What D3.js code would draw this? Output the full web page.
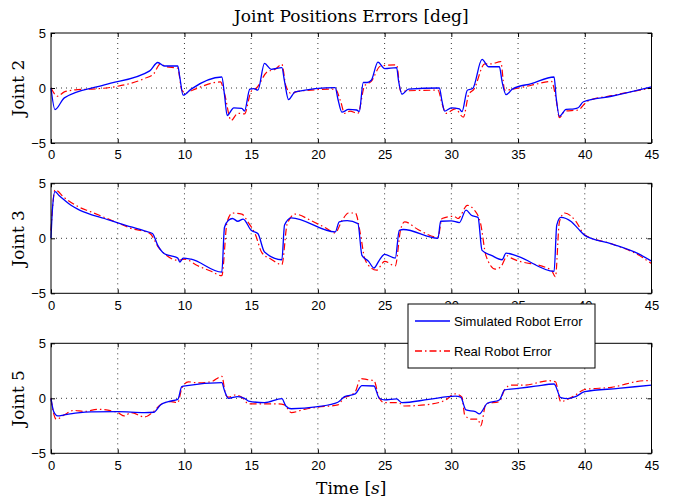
<!DOCTYPE html>
<html>
<head>
<meta charset="utf-8">
<script src="https://cdn.jsdelivr.net/npm/d3@7"></script>
<style>
	body{margin:0;background:#fff;}
	.tick text{font-family:'Liberation Sans',Arial,sans-serif;font-size:13px;fill:#000;}
	.lab{font-family:'DejaVu Serif','Liberation Serif',serif;fill:#000;}
</style>
</head>
<body>
<div id="plot"></div>
<script>
//time [s], error [deg]
var xTicks = [0,5,10,15,20,25,30,35,40,45],
	yTicks = [-5,0,5],
	jointNames = ['Joint 2','Joint 3','Joint 5'],
	seriesNames = ['Simulated Robot Error','Real Robot Error'];

var j2Sim = [[0,0],[0.3,-1.96],[1,-0.9],[4,0.28],[7.4,1.56],[8,2.32],[8.5,2.0],[9.5,2.0],[9.65,1.0],[9.9,-0.65],[10.5,-0.1],[12.8,1.0],[13.0,-0.6],[13.2,-2.5],[13.7,-1.8],[14.3,-1.85],[14.5,-2.1],[14.9,-0.1],[15.2,-0.05],[15.5,-0.2],[16.0,2.23],[16.5,1.7],[17.3,1.85],[17.5,0.6],[17.8,-1.05],[18.3,-0.35],[21.3,0.04],[21.5,-1.0],[21.8,-2.2],[22.3,-1.95],[22.9,-2.0],[23.1,-2.15],[23.4,0.5],[23.7,0.5],[24.0,0.7],[24.5,2.35],[25.0,1.77],[25.9,1.86],[26.05,0.6],[26.3,-0.57],[26.8,-0.1],[29.1,0.0],[29.3,-1.2],[29.5,-2.1],[30.0,-1.8],[30.6,-1.9],[30.8,-2.15],[31.2,-0.2],[31.6,-0.05],[32.3,2.6],[32.8,1.93],[33.6,1.93],[33.8,0.6],[34.1,-0.6],[34.6,-0.08],[36,0.4],[37.7,1.0],[37.85,-0.8],[38.1,-2.57],[38.6,-1.95],[39.2,-1.9],[39.5,-1.8],[39.9,-1.25],[42,-0.75],[45,0.1]];
var j2Real = [[0,0],[0.5,-0.75],[1,-0.35],[2,-0.15],[3,-0.1],[5,0.16],[7,0.86],[7.7,1.3],[8.2,2.2],[8.6,1.95],[9.5,1.8],[9.8,-0.2],[10.1,-0.45],[10.6,-0.2],[12.7,0.55],[13.0,-0.5],[13.5,-2.95],[14.0,-2.3],[14.5,-2.35],[15.0,-0.3],[15.4,0],[16.2,1.47],[16.8,1.7],[17.3,2.15],[17.6,0.2],[18.0,-0.5],[18.5,-0.3],[21.3,-0.1],[21.7,-1.2],[22.0,-2.3],[22.4,-2.1],[23.0,-2.3],[23.5,0.2],[24.0,0.6],[24.7,2.0],[25.9,2.1],[26.2,-0.3],[26.8,-0.25],[29.0,-0.2],[29.3,-1.4],[29.6,-2.3],[30.3,-1.9],[30.9,-2.65],[31.3,-0.6],[31.7,-0.1],[32.5,2.2],[33.0,2.2],[33.7,2.4],[34.0,-0.2],[34.6,-0.1],[36,0.25],[37.5,0.6],[37.85,-1.0],[38.1,-2.7],[38.5,-2.1],[39.5,-2.0],[40.2,-1.2],[42,-0.7],[45,0.0]];

var j3Sim = [[0,0],[0.1,2.5],[0.3,4.24],[0.6,3.9],[1,3.48],[1.5,3.0],[2,2.65],[3,2.16],[4,1.8],[5,1.4],[6,1.04],[7,0.67],[7.6,0.43],[8.0,-0.64],[8.5,-1.4],[9.0,-1.6],[9.5,-1.8],[9.65,-2.16],[9.9,-1.8],[10.5,-1.9],[12.8,-3.08],[13.0,1.0],[13.3,1.65],[13.6,1.8],[14.0,1.55],[14.4,1.75],[15.0,0.73],[15.5,0.43],[16.0,-1.25],[17.3,-1.95],[17.5,1.2],[18.0,1.86],[21.3,0.58],[21.6,1.5],[22.2,1.6],[23.0,1.34],[23.3,-1.55],[23.8,-2.1],[24.2,-2.7],[24.6,-2.0],[25.0,-1.46],[25.8,-1.8],[26.1,0.73],[26.4,0.8],[29.0,0.0],[29.2,1.55],[30.0,1.58],[30.6,1.43],[31.1,2.56],[31.5,2.1],[32.0,1.9],[32.3,-1.1],[33.0,-1.55],[33.8,-1.95],[34.1,-1.34],[35.0,-1.65],[37.7,-3.0],[37.9,1.2],[38.2,1.9],[39.0,1.5],[39.5,0.88],[40.0,0.27],[42,-0.5],[44,-1.4],[45,-2.07]];
var j3Real = [[0,0.7],[0.3,4.4],[1,3.7],[2,2.9],[3,2.4],[5,1.4],[6,0.9],[7.4,0.45],[8.1,-0.9],[8.5,-1.4],[9.5,-2.0],[10.0,-1.9],[11,-2.5],[12,-3.0],[12.8,-3.4],[13.2,1.5],[13.6,2.3],[14.3,2.2],[14.8,1.4],[15.3,0.4],[15.8,-1.3],[16.5,-1.9],[17.3,-2.4],[17.7,1.3],[18.3,2.2],[19.5,1.6],[20.5,1.0],[21.3,0.5],[21.8,1.6],[22.3,2.3],[22.8,2.3],[23.2,0.3],[23.5,-1.8],[24.0,-2.7],[24.4,-2.9],[25.0,-2.1],[25.8,-2.5],[26.2,0.8],[26.5,1.5],[27.5,0.8],[29.0,0.1],[29.3,1.8],[30.2,2.0],[30.5,1.8],[31.2,3.0],[31.7,2.6],[32.2,1.3],[32.6,-1.6],[33.3,-2.8],[33.7,-2.6],[34.2,-1.6],[34.5,-1.8],[37.5,-2.9],[37.8,-3.5],[38.1,1.5],[38.5,2.3],[39.3,1.6],[40,0.3],[42,-0.5],[44,-1.5],[45,-2.3]];

var j5Sim = [[0,0],[0.2,-1.2],[0.5,-1.6],[1,-1.5],[2,-1.33],[3,-1.24],[5,-1.21],[7,-1.3],[7.7,-1.27],[8.2,-0.6],[8.8,-0.3],[9.5,-0.1],[9.8,1.06],[10.2,1.15],[12.8,1.42],[13.0,0.7],[13.3,0],[14.0,0.15],[14.5,0],[14.8,-0.25],[16,-0.4],[17.3,-0.03],[17.6,-0.7],[18,-0.95],[20,-0.76],[21.5,-0.36],[22,0.15],[22.8,0.4],[23.3,1.15],[24.2,1.12],[24.6,0],[25.0,-0.15],[25.9,-0.06],[26.3,-0.4],[28.3,-0.1],[30.3,0.2],[30.7,0.1],[31.1,-1.06],[31.8,-1.21],[32.1,-1.42],[32.7,-0.45],[33.6,-0.15],[34.0,0.76],[35,0.9],[36.3,1.1],[37.7,1.3],[38.2,0.06],[38.7,-0.03],[39.3,0.15],[40,0.6],[42.5,0.9],[45,1.2]];
var j5Real = [[0,0],[0.1,-0.8],[0.4,-1.9],[1,-1.5],[1.7,-1.1],[2.5,-1.2],[3.5,-1.0],[5,-1.3],[5.5,-1.6],[6,-1.3],[7,-1.7],[7.6,-1.3],[8.3,-0.5],[9,-0.3],[9.5,-0.4],[9.8,0.9],[10.3,1.5],[11,1.4],[12,1.5],[12.8,2.0],[13.1,0.3],[13.3,0.1],[13.8,0.3],[14.3,0.1],[14.8,-0.5],[15.5,-0.5],[17,-0.5],[17.5,-0.6],[18,-1.3],[19,-1.0],[20,-0.8],[21.5,-0.6],[22,0.1],[22.3,0.2],[22.8,0.6],[23.2,1.8],[23.7,1.7],[24.2,1.6],[24.6,0],[25,-0.4],[26,-0.4],[26.5,-0.7],[28,-0.6],[29.5,-0.2],[30.3,0.4],[30.8,0.1],[31.0,-1.5],[31.5,-1.9],[32.0,-1.9],[32.2,-2.5],[32.6,-0.5],[33.6,-0.3],[34.0,0.8],[34.5,1.2],[35.5,1.2],[37.3,1.6],[37.8,1.5],[38.2,-0.3],[38.7,-0.1],[39.3,0.3],[40,0.8],[42,1.0],[44.5,1.6],[45,1.6]];

var panels = [
	{name:jointNames[0],sim:j2Sim,real:j2Real,top:33},
	{name:jointNames[1],sim:j3Sim,real:j3Real,top:183.3},
	{name:jointNames[2],sim:j5Sim,real:j5Real,top:343.3}
];

var W = 675, H = 501,
	left = 51, w = 600.5, h = 110;

var svg = d3.select('#plot').append('svg')
	.attr('width',W).attr('height',H);

var x = d3.scaleLinear().domain([0,45]).range([0,w]);
var y = d3.scaleLinear().domain([-5,5]).range([h,0]);

var line = d3.line()
	.x(function(d){return x(d[0])})
	.y(function(d){return y(d[1])})
	.curve(d3.curveMonotoneX);

panels.forEach(function(p){
	var g = svg.append('g').attr('transform','translate('+left+','+p.top+')');

	//dotted grid
	g.selectAll('.vgrid').data(xTicks.slice(1,-1)).enter().append('line')
		.attr('x1',function(d){return x(d)}).attr('x2',function(d){return x(d)})
		.attr('y1',0).attr('y2',h)
		.style('stroke','#000').style('stroke-width',0.8).style('stroke-dasharray','1,4');
	g.append('line')
		.attr('x1',0).attr('x2',w).attr('y1',y(0)).attr('y2',y(0))
		.style('stroke','#000').style('stroke-width',0.8).style('stroke-dasharray','1,4');

	g.append('path').datum(p.real)
		.attr('d',line)
		.style('fill','none').style('stroke','#ff0000').style('stroke-width',1.2)
		.style('stroke-dasharray','7,3,1.5,3');
	g.append('path').datum(p.sim)
		.attr('d',line)
		.style('fill','none').style('stroke','#0000ff').style('stroke-width',1.3);

	//axes, ticks inside
	g.append('g').attr('class','x')
		.attr('transform','translate(0,'+h+')')
		.call(d3.axisBottom(x).tickValues(xTicks).tickSizeInner(-4).tickSizeOuter(0).tickPadding(7));
	g.append('g')
		.call(d3.axisTop(x).tickValues(xTicks).tickSizeInner(-4).tickSizeOuter(0).tickFormat(''));
	g.append('g')
		.call(d3.axisLeft(y).tickValues(yTicks).tickSizeInner(-4).tickSizeOuter(0).tickPadding(5)
			.tickFormat(function(d){return d<0?'\u2212'+(-d):d}));
	g.append('g').attr('transform','translate('+w+',0)')
		.call(d3.axisRight(y).tickValues(yTicks).tickSizeInner(-4).tickSizeOuter(0).tickFormat(''));
	g.selectAll('.domain').remove();
	g.selectAll('.tick line').style('stroke','#000');
	g.append('rect').attr('width',w).attr('height',h)
		.style('fill','none').style('stroke','#000').style('stroke-width',1);

	svg.append('text').attr('class','lab')
		.attr('transform','translate(24,'+(p.top+h/2)+') rotate(-90)')
		.attr('text-anchor','middle')
		.style('font-size','17px')
		.text(p.name);
});

svg.append('text').attr('class','lab')
	.attr('x',left+w/2).attr('y',22)
	.attr('text-anchor','middle')
	.style('font-size','17px')
	.text('Joint Positions Errors [deg]');

var xl = svg.append('text').attr('class','lab')
	.attr('x',left+w/2).attr('y',494)
	.attr('text-anchor','middle')
	.style('font-size','17px');
xl.append('tspan').text('Time [');
xl.append('tspan').style('font-style','italic').text('s');
xl.append('tspan').text(']');

//legend
var lg = svg.append('g').attr('transform','translate(408,304)');
lg.append('rect').attr('width',187).attr('height',64)
	.style('fill','#fff').style('stroke','#000').style('stroke-width',1);
var styles = [{c:'#0000ff',dash:null},{c:'#ff0000',dash:'7,3,1.5,3'}];
seriesNames.forEach(function(s,i){
	var yy = 17 + i*30;
	lg.append('line').attr('x1',7).attr('x2',42).attr('y1',yy).attr('y2',yy)
		.style('stroke',styles[i].c).style('stroke-width',1.3)
		.style('stroke-dasharray',styles[i].dash);
	lg.append('text').attr('x',46).attr('y',yy+4.5)
		.style('font-family',"'Liberation Sans',Arial,sans-serif").style('font-size','13px')
		.text(s);
});
</script>
</body>
</html>
